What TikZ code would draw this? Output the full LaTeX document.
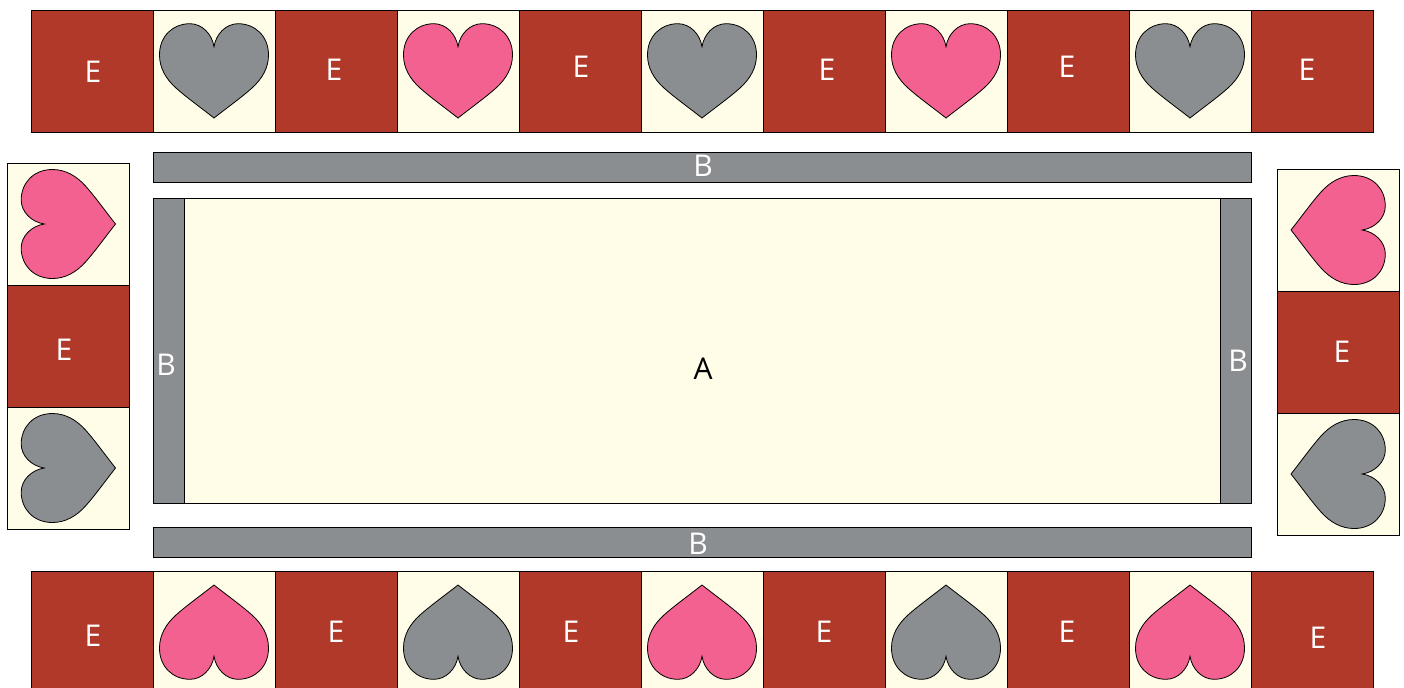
\documentclass[tikz,border=0pt]{standalone}
\usepackage{fontspec}
\setmainfont{Open Sans}
\definecolor{brickred}{HTML}{B0392A}
\definecolor{cream}{HTML}{FFFCE8}
\definecolor{slategray}{HTML}{8B8E90}
\definecolor{rosepink}{HTML}{F36190}

\tikzset{
  outline/.style={draw=black, line width=0.6pt},
  bricktile/.style={outline, fill=brickred},
  creamtile/.style={outline, fill=cream},
  graybar/.style={outline, fill=slategray},
  whitelabel/.style={font=\fontsize{22.5}{22.5}\selectfont, text=white, inner sep=0pt},
  blacklabel/.style={font=\fontsize{22.5}{22.5}\selectfont, text=black, inner sep=0pt},
  heartpic/.pic={
    \draw[outline, fill=#1, line join=miter] (0,47)
      .. controls (-14,36) and (-28,26) .. (-38,17)
      .. controls (-48,8) and (-54.5,-3) .. (-54.5,-16)
      .. controls (-54.5,-35) and (-41,-47.3) .. (-24,-47.3)
      .. controls (-12,-47.3) and (-2,-37) .. (0,-24.3)
      .. controls (2,-37) and (12,-47.3) .. (24,-47.3)
      .. controls (41,-47.3) and (54.5,-35) .. (54.5,-16)
      .. controls (54.5,-3) and (48,8) .. (38,17)
      .. controls (28,26) and (14,36) .. (0,47) -- cycle;
  }
}

\begin{document}
\begin{tikzpicture}[x=0.75pt, y=-0.75pt]

% Page frame, coordinates below are in reference pixels
\useasboundingbox (0,0) rectangle (1404,687);
\clip (0,0) rectangle (1404,687);

% Centre panel
\draw[creamtile] (153,198) rectangle (1251,503);
\draw[graybar] (153,198) rectangle (184,503);
\draw[graybar] (1220,198) rectangle (1251,503);
\draw[graybar] (153,152) rectangle (1251,182);
\draw[graybar] (153,527) rectangle (1251,557);
\node[blacklabel] (labelA) at (703,369) {A};
\node[whitelabel] (barTop) at (703,166) {B};
\node[whitelabel] (barBottom) at (698,544) {B};
\node[whitelabel] (barLeft) at (166,365) {B};
\node[whitelabel] (barRight) at (1238,361) {B};

% Top row: brick squares
\foreach \xpos/\xlab/\ylab [count=\i] in {31/93/72, 275/334/70, 519/581/67, 763/827/70, 1007/1067/67, 1251/1307/70} {
  \draw[bricktile] (\xpos,10) rectangle (\xpos+122,132);
  \node[whitelabel] (top\i) at (\xlab,\ylab) {E};
}
% Top row: hearts
\foreach \xpos/\hcol in {153/slategray, 397/rosepink, 641/slategray, 885/rosepink, 1129/slategray} {
  \draw[creamtile] (\xpos,10) rectangle (\xpos+122,132);
  \pic at (\xpos+61,71) {heartpic=\hcol};
}

% Bottom row: brick squares
\foreach \xpos/\xlab/\ylab [count=\i] in {31/93/636, 275/336/632, 519/571/632, 763/824/632, 1007/1067/632, 1251/1318/638} {
  \draw[bricktile] (\xpos,571) rectangle (\xpos+122,693);
  \node[whitelabel] (bottom\i) at (\xlab,\ylab) {E};
}
% Bottom row: hearts
\foreach \xpos/\hcol in {153/rosepink, 397/slategray, 641/rosepink, 885/slategray, 1129/rosepink} {
  \draw[creamtile] (\xpos,571) rectangle (\xpos+122,693);
  \pic[rotate=180] at (\xpos+61,632) {heartpic=\hcol};
}

% Left column
\draw[creamtile] (7,163) rectangle (129,285);
\draw[bricktile] (7,285) rectangle (129,407);
\draw[creamtile] (7,407) rectangle (129,529);
\pic[rotate=90] at (68.5,224) {heartpic=rosepink};
\pic[rotate=90] at (68.5,468) {heartpic=slategray};
\node[whitelabel] (sideLeft) at (64,350) {E};

% Right column
\draw[creamtile] (1277,169) rectangle (1399,291);
\draw[bricktile] (1277,291) rectangle (1399,413);
\draw[creamtile] (1277,413) rectangle (1399,535);
\pic[rotate=-90] at (1338,230) {heartpic=rosepink};
\pic[rotate=-90] at (1338,474) {heartpic=slategray};
\node[whitelabel] (sideRight) at (1342,352) {E};

\end{tikzpicture}
\end{document}
